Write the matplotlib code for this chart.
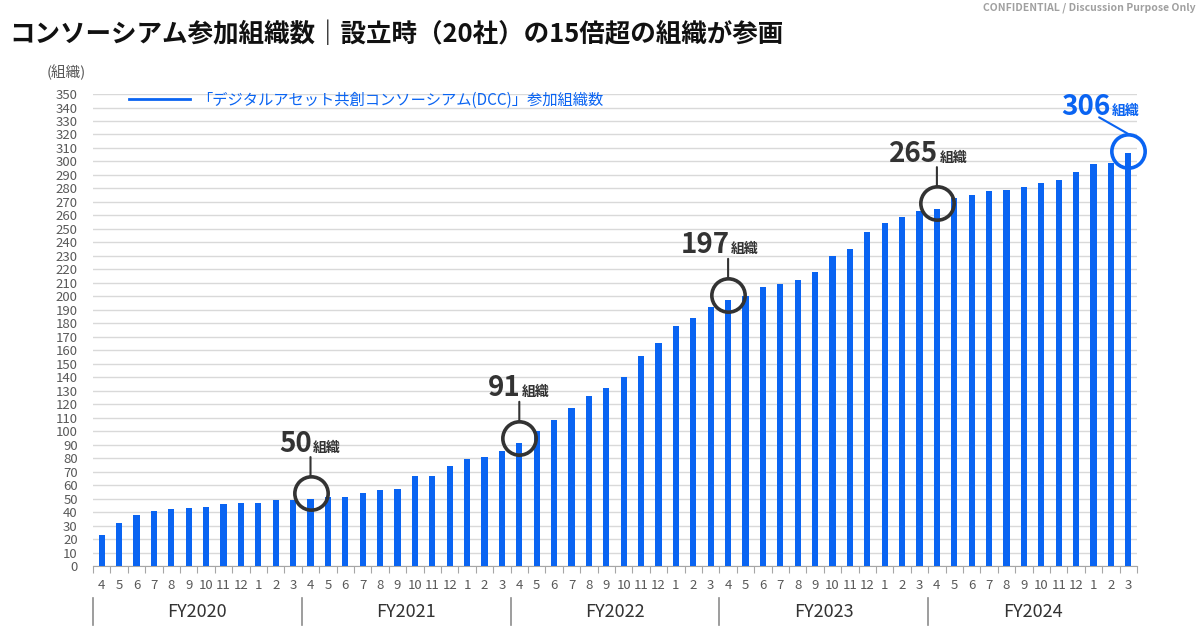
import matplotlib
matplotlib.use("Agg")
import matplotlib.pyplot as plt
from matplotlib.lines import Line2D
import matplotlib.transforms as mtransforms

plt.rcParams['font.family'] = ['Noto Sans CJK JP', 'DejaVu Sans']

# Data
fiscal_years = ["FY2020", "FY2021", "FY2022", "FY2023", "FY2024"]
months = [4, 5, 6, 7, 8, 9, 10, 11, 12, 1, 2, 3]
members = [
    23, 32, 38, 41, 42, 43, 44, 46, 47, 47, 49, 49,        # FY2020
    50, 51, 51, 54, 56, 57, 67, 67, 74, 79, 81, 85,        # FY2021
    91, 100, 108, 117, 126, 132, 140, 156, 165, 178, 184, 192,   # FY2022
    197, 200, 207, 209, 212, 218, 230, 235, 248, 254, 259, 263,  # FY2023
    265, 273, 275, 278, 279, 281, 284, 286, 292, 298, 299, 306,  # FY2024
]
highlight_idx = [12, 24, 36, 48, 59]
legend_label = "「デジタルアセット共創コンソーシアム(DCC)」参加組織数"
title = "コンソーシアム参加組織数｜設立時（20社）の15倍超の組織が参画"

BLUE = "#0A64F2"
DARK = "#333333"
GRAY = "#595959"

fig = plt.figure(figsize=(12, 6.31), dpi=100)
ax = fig.add_axes([0.0775, 0.103, 0.87, 0.748])

n = len(members)
x = list(range(n))
ax.bar(x, members, width=0.36, color=BLUE, zorder=3)

ax.set_xlim(-0.5, n - 0.5)
ax.set_ylim(0, 350)
ax.set_yticks(range(0, 351, 10))
ax.yaxis.grid(True, color="#D9D9D9", lw=1, zorder=0)
ax.tick_params(axis="y", length=0, labelsize=9.5, labelcolor=GRAY, pad=11)
for s in ["top", "right", "left"]:
    ax.spines[s].set_visible(False)
ax.spines["bottom"].set_color("#A6A6A6")

# month labels under bars, tick marks at slot boundaries
ax.set_xticks([i - 0.5 for i in range(n + 1)])
ax.set_xticklabels([])
ax.tick_params(axis="x", which="major", length=5, color="#A6A6A6", direction="out")
ax.set_xticks(x, minor=True)
ax.set_xticklabels([str(months[i % 12]) for i in x], minor=True)
ax.tick_params(axis="x", which="minor", length=0, labelsize=9.5, labelcolor=GRAY, pad=9)

# fiscal year labels and separators
trans = mtransforms.blended_transform_factory(ax.transData, ax.transAxes)
for k, fy in enumerate(fiscal_years):
    start = k * 12 - 0.5
    ax.plot([start, start], [-0.068, -0.125], color="#8C8C8C", lw=1.2,
            transform=trans, clip_on=False)
    ax.text(start + 6, -0.097, fy, transform=trans, ha="center", va="center",
            fontsize=13, color=DARK)

# highlighted milestones
for i in highlight_idx:
    v = members[i]
    last = i == n - 1
    col = BLUE if last else DARK
    cy = v + (2 if last else 4)
    ax.plot(i, cy, marker="o", ms=24, mfc="none", mec=col, mew=2.6,
            zorder=5, clip_on=False)
    top = mtransforms.offset_copy(ax.transData, fig=fig, x=0, y=12, units="points")
    if last:
        dx, dy = -21, 12
        ox, oy = -13, 26
    else:
        dx, dy = 0, 14
        ox, oy = 1, 30
    ax.annotate("", xy=(i, cy), xycoords=top, xytext=(dx, dy), textcoords="offset points",
                arrowprops=dict(arrowstyle="-", color=col, lw=1.5, shrinkA=0, shrinkB=0),
                zorder=5, annotation_clip=False)
    ax.annotate(str(v), xy=(i, cy), xytext=(ox, oy), textcoords="offset points",
                ha="right", va="baseline", fontsize=20, fontweight="bold",
                color=col, annotation_clip=False)
    ax.annotate("組織", xy=(i, cy), xytext=(ox + 1, oy), textcoords="offset points",
                ha="left", va="baseline", fontsize=10, fontweight="bold",
                color=col, annotation_clip=False)

# legend
handle = Line2D([], [], color=BLUE, lw=2)
ax.legend([handle], [legend_label], loc="upper left", bbox_to_anchor=(0.021, 1.034),
          frameon=False, handlelength=4.0, fontsize=11, labelcolor=BLUE,
          handletextpad=0.5)

# texts around the chart
fig.text(0.008, 0.945, title, fontsize=18.4, fontweight="bold", color="#111111",
         ha="left", va="center")
fig.text(0.996, 0.987, "CONFIDENTIAL / Discussion Purpose Only", fontsize=7.5,
         fontweight="bold", color="#A0A0A0", ha="right", va="center")
fig.text(0.039, 0.886, "(組織)", fontsize=10.5, color=GRAY, ha="left", va="center")

fig.savefig("out.png", dpi=100, facecolor="white")
